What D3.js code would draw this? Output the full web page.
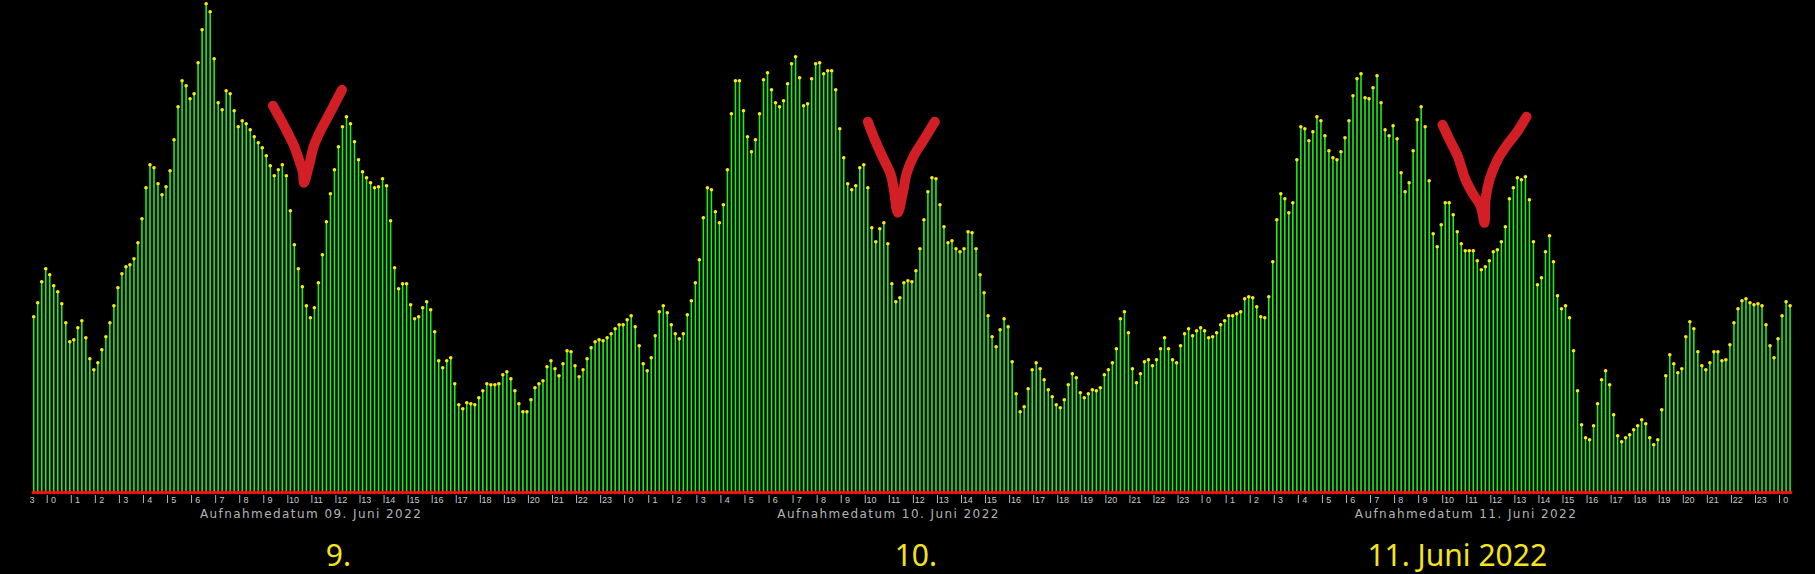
<!DOCTYPE html>
<html>
<head>
<meta charset="utf-8">
<script src="https://cdn.jsdelivr.net/npm/d3@7"></script>
<style>
    html, body { margin: 0; padding: 0; background: #000; }
    svg { display: block; }
</style>
</head>
<body>
<div id="chart"></div>
<script>
// one sample every 10 minutes, starting 08.06.2022 23:30
var startTime = new Date(2022, 5, 8, 23, 30);
var stepMinutes = 10;

var counts = [
    175,189,210,223,217,206,200,188,169,150,
    152,164,171,154,133,122,129,142,155,169,
    186,204,218,225,227,233,249,273,304,327,
    324,308,297,305,321,352,385,411,406,393,
    398,429,462,488,480,433,389,382,401,398,
    381,365,371,368,362,355,349,344,336,326,
    316,322,327,316,281,247,223,205,186,174,
    184,209,237,270,
    298,322,345,365,375,368,350,332,320,314,
    309,304,305,313,306,271,224,203,208,208,
    187,173,175,184,190,182,160,131,124,131,
    134,108,87,83,89,88,87,94,101,108,
    107,107,108,117,120,113,101,88,80,80,
    92,104,108,111,125,131,123,116,128,141,
    140,126,115,122,133,144,150,152,151,154,
    158,163,167,167,172,176,165,146,128,121,
    134,156,180,186,179,167,158,153,158,177,
    191,209,232,274,304,302,280,269,287,322,
    378,411,411,381,355,340,352,378,412,419,
    402,389,385,391,408,428,435,414,386,388,
    413,428,429,418,421,421,402,363,334,308,
    302,306,324,327,304,264,250,263,269,248,
    208,190,194,209,211,210,221,243,272,300,
    314,313,287,265,249,251,243,240,243,260,
    259,243,217,199,176,155,145,162,173,165,
    130,98,80,85,103,122,129,123,112,102,
    95,87,
    84,92,107,118,114,99,94,98,102,101,
    104,117,122,129,143,173,180,159,123,109,
    118,130,132,126,132,143,154,143,132,129,
    146,158,163,156,161,164,161,154,155,159,
    167,171,176,176,178,180,193,195,194,185,
    175,174,195,230,272,298,293,279,289,332,
    365,363,351,360,375,371,356,341,334,332,
    340,354,371,396,413,418,394,393,404,416,
    389,362,356,366,353,319,300,309,341,372,
    385,365,311,258,245,267,289,289,277,260,
    248,241,241,241,231,222,225,231,240,242,
    250,265,293,304,314,312,315,292,250,207,
    214,240,256,230,196,183,186,174,141,101,
    67,54,52,66,88,112,121,107,77,56,
    50,54,57,62,66,72,68,54,47,52,
    82,116,137,128,119,123,155,170,163,140,
    126,122,129,140,140,131,132,147,169,183,
    191,193,189,187,188,186,167,146,134,153,
    176,190,186
];

var captionDays = [new Date(2022, 5, 9), new Date(2022, 5, 10), new Date(2022, 5, 11)];
var captionTexts = ['Aufnahmedatum 09. Juni 2022', 'Aufnahmedatum 10. Juni 2022', 'Aufnahmedatum 11. Juni 2022'];

var bigLabelTimes = [new Date(2022, 5, 9, 12, 10), new Date(2022, 5, 10, 12, 10), new Date(2022, 5, 11, 10, 40)];
var bigLabelTexts = ['9.', '10.', '11. Juni 2022'];

// hand drawn check marks: anchor (time, value) at the bottom of the stroke
var checkAnchors = [
    {time: new Date(2022, 5, 9, 10, 44), value: 309},
    {time: new Date(2022, 5, 10, 11, 25), value: 279},
    {time: new Date(2022, 5, 11, 11, 48), value: 269}
];
var checkShapes = [
    [[-31,-77],[-20,-57],[-10,-37],[-5,-23],[-1,-10],[0,0],[5,-17],[10,-37],[17,-53],[24,-66],[38,-93]],
    [[-30,-91],[-23,-73],[-14,-53],[-7,-38],[-4,-23],[0,0],[5,-20],[9,-40],[16,-57],[26,-73],[37,-91]],
    [[-42,-98],[-35,-83],[-27,-67],[-19,-43],[-11,-28],[-4,-17],[0,0],[1,-23],[5,-43],[13,-63],[22,-77],[32,-90],[42,-106]]
];

var width = 1815, height = 574;
var baseY = 491.7;

var times = counts.map(function (d, i) {
    return d3.timeMinute.offset(startTime, i * stepMinutes);
});
var data = counts.map(function (d, i) { return {time: times[i], count: d}; });

var x = d3.scaleTime()
    .domain([times[0], times[times.length - 1]])
    .range([33.7, 33.7 + (counts.length - 1) * 4.01]);

var y = d3.scaleLinear()
    .domain([0, 490])
    .range([baseY, baseY - 490]);

var svg = d3.select('#chart').append('svg')
    .attr('width', width)
    .attr('height', height)
    .style('background', '#000');

// clip in the axis group's own coordinates
svg.append('defs').append('clipPath').attr('id', 'axisclip')
    .append('rect').attr('x', 29).attr('y', -5).attr('width', 1785).attr('height', 30);

// stems
svg.append('g').selectAll('line')
    .data(data)
    .enter().append('line')
    .attr('x1', function (d) { return x(d.time); })
    .attr('x2', function (d) { return x(d.time); })
    .attr('y1', y(0))
    .attr('y2', function (d) { return y(d.count); })
    .attr('stroke', '#18f018')
    .attr('stroke-width', 1.6);

// red baseline
svg.append('line')
    .attr('x1', x(times[0]) - 2)
    .attr('x2', x(times[times.length - 1]) + 2)
    .attr('y1', y(0) + 0.8)
    .attr('y2', y(0) + 0.8)
    .attr('stroke', '#ff1010')
    .attr('stroke-width', 2.6);
svg.append('g').selectAll('circle')
    .data(data)
    .enter().append('circle')
    .attr('cx', function (d) { return x(d.time); })
    .attr('cy', y(0) + 0.8)
    .attr('r', 1.7)
    .attr('fill', '#ff1010');

// yellow heads
svg.append('g').selectAll('circle')
    .data(data)
    .enter().append('circle')
    .attr('cx', function (d) { return x(d.time); })
    .attr('cy', function (d) { return y(d.count); })
    .attr('r', 1.8)
    .attr('fill', '#ffee00');

// hour axis
var hourTicks = d3.timeHour.range(d3.timeHour.offset(d3.timeDay.floor(times[0]), 23), d3.timeMinute.offset(times[times.length - 1], 1));
var axis = svg.append('g')
    .attr('clip-path', 'url(#axisclip)')
    .attr('transform', 'translate(1,495)')
    .call(d3.axisBottom(x)
        .tickValues(hourTicks)
        .tickFormat(d3.timeFormat('%-H'))
        .tickSize(8)
        .tickSizeOuter(0));
axis.select('.domain').remove();
axis.selectAll('.tick line').attr('stroke', '#b8b8b8').attr('stroke-width', 1);
axis.selectAll('.tick text')
    .attr('x', 6.3)
    .attr('y', 8)
    .attr('dy', 0)
    .attr('fill', '#c8c8c8')
    .style('font-family', 'Liberation Sans, Arial, sans-serif')
    .style('font-size', '9px');

// captions under the axis
svg.append('g').selectAll('text')
    .data(captionDays)
    .enter().append('text')
    .attr('x', function (d) { return x(d3.timeHour.offset(d, 11)); })
    .attr('y', 517.5)
    .attr('text-anchor', 'middle')
    .attr('textLength', 221)
    .attr('lengthAdjust', 'spacing')
    .attr('fill', '#b4b4b4')
    .style('font-family', 'DejaVu Sans, sans-serif')
    .style('font-size', '12px')
    .text(function (d, i) { return captionTexts[i]; });

// big yellow day labels
svg.append('g').selectAll('text')
    .data(bigLabelTimes)
    .enter().append('text')
    .attr('x', function (d) { return x(d); })
    .attr('y', 566)
    .attr('text-anchor', 'middle')
    .attr('fill', '#f4e41c')
    .style('font-family', 'Noto Sans, Open Sans, sans-serif')
    .style('font-size', '30px')
    .text(function (d, i) { return bigLabelTexts[i]; });

// red check marks
var checkLine = d3.line().curve(d3.curveCatmullRom.alpha(0.5));
svg.append('g').selectAll('path')
    .data(checkAnchors)
    .enter().append('path')
    .attr('d', function (d, i) {
        var ax = x(d.time), ay = y(d.value);
        return checkLine(checkShapes[i].map(function (p) { return [ax + p[0], ay + p[1]]; }));
    })
    .attr('fill', 'none')
    .attr('stroke', '#d21f26')
    .attr('stroke-width', 10)
    .attr('stroke-linecap', 'round')
    .attr('stroke-linejoin', 'round');
</script>
</body>
</html>
